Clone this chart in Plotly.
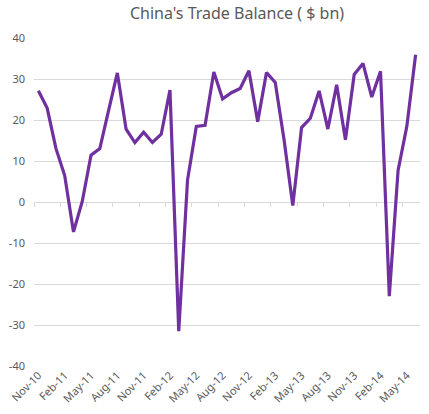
import plotly.graph_objects as go
import pandas as pd

# Monthly trade balance, $ bn (as labelled in the chart)
months = list(pd.date_range("2010-11-01", periods=44, freq="MS").strftime("%b-%y"))
balance = [27.15, 22.9, 13.08, 6.45, -7.3, 0.14, 11.43, 13.05, 22.27, 31.48,
           17.76, 14.51, 17.03, 14.52, 16.52, 27.28, -31.48, 5.35, 18.42, 18.7,
           31.73, 25.15, 26.66, 27.67, 32.0, 19.6, 31.6, 29.15, 15.25, -0.88,
           18.16, 20.43, 27.1, 17.8, 28.6, 15.2, 31.1, 33.8, 25.6, 31.9,
           -22.98, 7.7, 18.45, 35.92]
y_ticks = [40, 30, 20, 10, 0, -10, -20, -30, -40]
y_ticktext = [str(v) for v in y_ticks]

idx = list(range(len(months)))
label_idx = idx[::3]
label_text = [months[i] for i in label_idx]
boundary_ticks = [i - 0.5 for i in label_idx]

ymin, ymax = -40, 40
xr = [-0.5, len(months) - 0.5]

fig = go.Figure()
fig.add_trace(go.Scatter(
    x=idx, y=balance, mode="lines",
    line=dict(color="#7030A0", width=3.2),
    hovertext=months, hoverinfo="text+y",
))
# invisible helper so the overlaid axis (tick marks on the zero line) is rendered
fig.add_trace(go.Scatter(x=[idx[0]], y=[balance[0]], mode="lines", xaxis="x2",
                         line=dict(width=0), hoverinfo="skip", showlegend=False))

grey = "#595959"
fig.update_layout(
    width=429, height=414,
    margin=dict(l=34, r=9, t=38, b=48),
    paper_bgcolor="white", plot_bgcolor="white",
    showlegend=False,
    font=dict(family="Noto Sans", color=grey, size=11),
    title=dict(text="China's Trade Balance ( $ bn)", x=237 / 429, xanchor="center",
               y=1 - 13 / 414, yanchor="middle",
               font=dict(family="Noto Sans", size=16, color=grey)),
    xaxis=dict(range=xr, tickmode="array", tickvals=label_idx, ticktext=label_text,
               tickangle=-45, showgrid=False, zeroline=False, showline=False,
               ticks="", tickfont=dict(size=11, color=grey)),
    xaxis2=dict(range=xr, overlaying="x", anchor="free", position=(0 - ymin) / (ymax - ymin),
                tickmode="array", tickvals=boundary_ticks, ticks="outside", ticklen=4,
                tickcolor="#d9d9d9", showline=True, linecolor="#d9d9d9", linewidth=1,
                showticklabels=False, showgrid=False, zeroline=False, layer="below traces"),
    yaxis=dict(range=[ymin, ymax], tickmode="array", tickvals=y_ticks, ticktext=y_ticktext,
               showgrid=True, gridcolor="#d9d9d9", gridwidth=1, zeroline=False,
               showline=False, ticks="", ticklabelstandoff=8,
               tickfont=dict(size=11, color=grey)),
)

fig.write_html("out.html", config={"displayModeBar": False},
               post_script="document.body.style.margin='0';")
